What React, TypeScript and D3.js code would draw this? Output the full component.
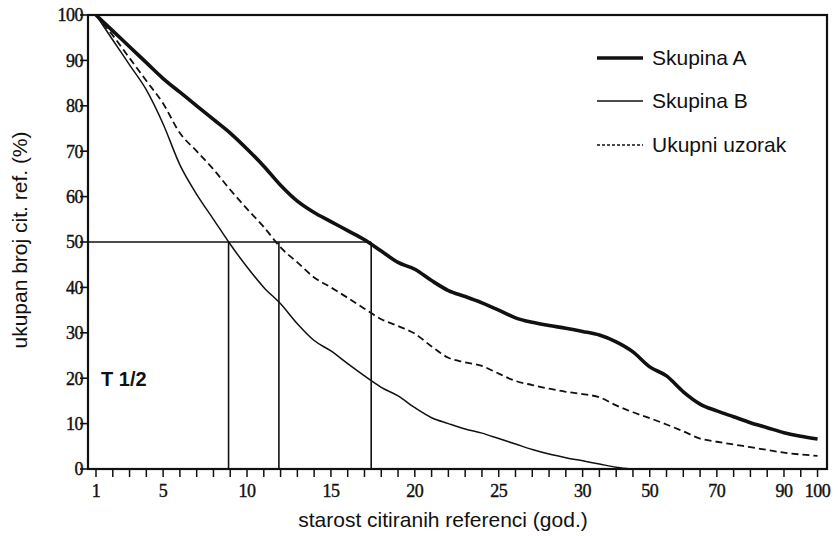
import React from "react";
import * as d3 from "d3";

// starost (god.) – ticks each year up to 30, then every 5 years
const years = [
  1, 2, 3, 4, 5, 6, 7, 8, 9, 10, 11, 12, 13, 14, 15, 16, 17, 18, 19, 20,
  21, 22, 23, 24, 25, 26, 27, 28, 29, 30, 35, 40, 45, 50, 55, 60, 65, 70,
  75, 80, 85, 90, 95, 100,
];
const xLabels = [1, 5, 10, 15, 20, 25, 30, 50, 70, 90, 100];
const yTicks = [0, 10, 20, 30, 40, 50, 60, 70, 80, 90, 100];

const skupinaA = [
  100, 96.5, 93, 89.5, 86, 83, 80, 77, 74, 70.5, 66.7, 62.5, 59, 56.5, 54.5,
  52.5, 50.5, 48, 45.5, 44, 41.5, 39.3, 38, 36.6, 35, 33.3, 32.3, 31.6, 31,
  30.3, 29.5, 28, 25.8, 22.5, 20.5, 17, 14.3, 12.8, 11.5, 10.2, 9.1, 8, 7.2,
  6.6,
];
const skupinaB = [
  100, 94.5, 89, 83.5, 76, 67, 60.5, 55, 49.5, 44.5, 40, 36.4, 32, 28.3, 26,
  23.2, 20.5, 18, 16.1, 13.5, 11.3, 10, 8.8, 7.9, 6.7, 5.5, 4.3, 3.3, 2.5,
  1.8, 1.1, 0.4, 0, 0, null, null, null, null, null, null, null, null, null,
  null,
];
const ukupno = [
  100, 95.5, 90.5, 85.5, 80.5, 74, 70, 66, 61.5, 57.3, 53.3, 48.8, 45.5, 42.2,
  40, 37.7, 35.3, 33, 31.5, 29.8, 27, 24.5, 23.5, 22.7, 21, 19.4, 18.5, 17.7,
  17, 16.5, 15.8, 14, 12.5, 11.2, 9.8, 8.3, 6.7, 6, 5.4, 4.8, 4.2, 3.6, 3.2,
  2.9,
];

// T 1/2 for B, ukupni uzorak, A
const halfLives = [8.9, 11.9, 17.4];

const W = 839;
const H = 536;
const left = 88;
const right = 827;
const top = 15;
const bottom = 469;
const x0 = 96;
const unit = 16.78;

const x = d3
  .scaleLinear()
  .domain([1, 30, 100])
  .range([x0, x0 + 29 * unit, x0 + 43 * unit]);
const y = d3.scaleLinear().domain([0, 100]).range([bottom, top]);

const line = d3
  .line<number | null>()
  .defined((d) => d != null)
  .x((_, i) => x(years[i]))
  .y((d) => y(d as number))
  .curve(d3.curveMonotoneX);

const sans = "Arial, 'Liberation Sans', sans-serif";
const serif = "'Liberation Serif', 'Times New Roman', serif";

export default function App() {
  return (
    <svg
      width={W}
      height={H}
      style={{ position: "absolute", left: 0, top: 0, background: "#fff" }}
    >
      {/* frame */}
      <rect
        x={left}
        y={top}
        width={right - left}
        height={bottom - top}
        fill="none"
        stroke="#111"
        strokeWidth={2.2}
      />

      {/* y ticks */}
      {yTicks.map((t) => (
        <g key={t}>
          <line x1={left - 8} x2={left} y1={y(t)} y2={y(t)} stroke="#111" strokeWidth={1.6} />
          <text
            x={left - 5}
            y={y(t)}
            dy="0.35em"
            textAnchor="end"
            fontFamily={serif}
            fontSize={18}
            fill="#111"
            stroke="#111"
            strokeWidth={0.4}
            letterSpacing={-0.5}
          >
            {t}
          </text>
        </g>
      ))}

      {/* x ticks */}
      {years.map((t) => (
        <line key={t} x1={x(t)} x2={x(t)} y1={bottom} y2={bottom + 8} stroke="#111" strokeWidth={1.5} />
      ))}
      {xLabels.map((t) => (
        <text
          key={t}
          x={x(t)}
          y={bottom + 28}
          textAnchor="middle"
          fontFamily={serif}
          fontSize={18}
          fill="#111"
          stroke="#111"
          strokeWidth={0.4}
          letterSpacing={-0.5}
        >
          {t}
        </text>
      ))}

      {/* half-life guides */}
      <line
        x1={left}
        x2={x(halfLives[2])}
        y1={y(50)}
        y2={y(50)}
        stroke="#111"
        strokeWidth={1.6}
      />
      {halfLives.map((h) => (
        <line key={h} x1={x(h)} x2={x(h)} y1={y(50)} y2={y(0)} stroke="#111" strokeWidth={1.6} />
      ))}

      {/* curves */}
      <path d={line(ukupno) || ""} fill="none" stroke="#111" strokeWidth={1.8} strokeDasharray="7,4" />
      <path d={line(skupinaB) || ""} fill="none" stroke="#111" strokeWidth={1.5} />
      <path d={line(skupinaA) || ""} fill="none" stroke="#111" strokeWidth={3.6} />

      <text x={101} y={386} fontFamily={sans} fontSize={20} fontWeight="bold" fill="#111">
        T 1/2
      </text>

      {/* legend */}
      <line x1={597} x2={643} y1={58} y2={58} stroke="#111" strokeWidth={3.6} />
      <text x={652} y={65} fontFamily={sans} fontSize={21} fill="#111">
        Skupina A
      </text>
      <line x1={597} x2={643} y1={101} y2={101} stroke="#111" strokeWidth={1.5} />
      <text x={652} y={108} fontFamily={sans} fontSize={21} fill="#111">
        Skupina B
      </text>
      <line x1={597} x2={643} y1={145} y2={145} stroke="#111" strokeWidth={1.3} strokeDasharray="3,2" />
      <text x={652} y={152} fontFamily={sans} fontSize={21} fill="#111">
        Ukupni uzorak
      </text>

      {/* axis titles */}
      <text
        x={443}
        y={527}
        textAnchor="middle"
        fontFamily={sans}
        fontSize={21}
        fill="#111"
      >
        starost citiranih referenci (god.)
      </text>
      <text
        transform={`translate(27, ${240}) rotate(-90)`}
        textAnchor="middle"
        fontFamily={sans}
        fontSize={21}
        fill="#111"
      >
        ukupan broj cit. ref. (%)
      </text>
    </svg>
  );
}
